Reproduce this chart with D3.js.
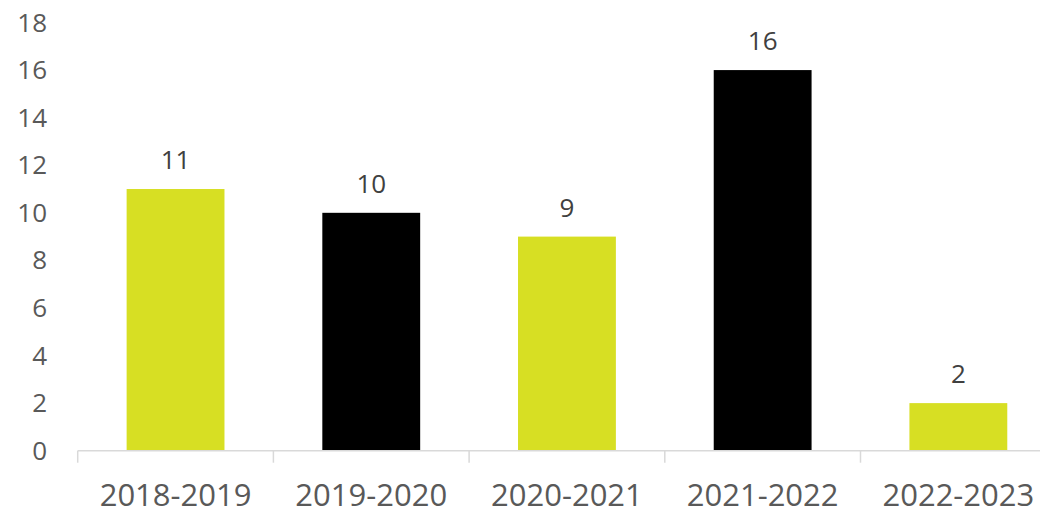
<!DOCTYPE html>
<html><head><meta charset="utf-8">
<script src="https://cdn.jsdelivr.net/npm/d3@7"></script>
<style>body{margin:0;background:#fff}svg{display:block}</style>
</head><body>
<svg id="c" width="1040" height="514"></svg>
<script>
const categories = ["2018-2019","2019-2020","2020-2021","2021-2022","2022-2023"];
const values = [11,10,9,16,2];
const barColors = ["#d7df23","#000000","#d7df23","#000000","#d7df23"];
const yTicks = [0,2,4,6,8,10,12,14,16,18];

(function(){
const svg = d3.select("#c");
const mLeft = 77.7, bandW = 195.7, mBottom = 450.7, mTop = 22.5;
const x = d3.scaleBand().domain(categories).range([mLeft, mLeft + bandW*categories.length]).paddingInner(0.5).paddingOuter(0.25);
const y = d3.scaleLinear().domain([0,18]).range([mBottom, mTop]);

svg.append("g").selectAll("text").data(yTicks).join("text")
  .attr("x", 47).attr("y", d => y(d)).attr("dy","0.35em")
  .attr("text-anchor","end").attr("fill","#595959")
  .style("font-family","'Open Sans', sans-serif").style("font-size","26px")
  .text(d => d);

svg.append("g").selectAll("rect").data(values).join("rect")
  .attr("x",(d,i)=>x(categories[i])).attr("width",x.bandwidth())
  .attr("y",d=>y(d)).attr("height",d=>mBottom-y(d))
  .attr("fill",(d,i)=>barColors[i]);

const ax = svg.append("g").attr("stroke","#d9d9d9").attr("stroke-width",1.5);
ax.append("line").attr("x1",mLeft).attr("x2",mLeft+bandW*categories.length).attr("y1",mBottom).attr("y2",mBottom);
const bounds = d3.range(categories.length+1).map(i => mLeft + i*bandW);
ax.selectAll("line.t").data(bounds).join("line").attr("class","t")
  .attr("x1",d=>d).attr("x2",d=>d).attr("y1",mBottom).attr("y2",mBottom+12);

svg.append("g").selectAll("text").data(categories).join("text")
  .attr("x",d=>x(d)+x.bandwidth()/2).attr("y",506)
  .attr("text-anchor","middle").attr("fill","#595959")
  .style("font-family","'Open Sans', sans-serif").style("font-size","31px")
  .text(d=>d);

svg.append("g").selectAll("text").data(values).join("text")
  .attr("x",(d,i)=>x(categories[i])+x.bandwidth()/2).attr("y",d=>y(d)-20)
  .attr("text-anchor","middle").attr("fill","#404040")
  .style("font-family","'Open Sans', sans-serif").style("font-size","26px")
  .text(d=>d);
})();
</script>
</body></html>
